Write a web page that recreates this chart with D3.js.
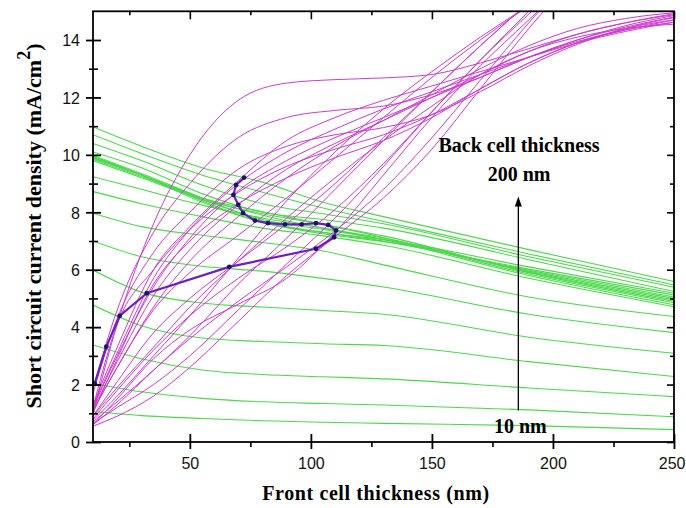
<!DOCTYPE html>
<html><head><meta charset="utf-8">
<script src="https://cdn.jsdelivr.net/npm/d3@7"></script>
<style>body{margin:0;background:#fff}svg{display:block}</style>
</head><body><svg id="c" width="686" height="508"></svg>
<script>
// ---------- data ----------
const backThickness = [10,20,30,40,50,60,70,80,90,100,110,120,130,140,150,160,170,180,190,200];

// back-cell current (green) vs front-cell thickness
const greenX = [10, 30, 55, 80, 105, 130, 190, 250];
const greenJsc = [
  [1.06, 0.92, 0.82, 0.74, 0.69, 0.65, 0.57, 0.43],
  [2.04, 1.75, 1.52, 1.40, 1.34, 1.29, 1.12, 0.88],
  [3.38, 2.90, 2.51, 2.35, 2.27, 2.20, 1.88, 1.58],
  [4.77, 4.05, 3.62, 3.50, 3.42, 3.36, 2.80, 2.28],
  [5.99, 5.22, 4.84, 4.70, 4.58, 4.45, 3.65, 3.09],
  [7.00, 6.45, 6.12, 5.95, 5.70, 5.40, 4.45, 3.81],
  [7.97, 7.50, 7.20, 6.95, 6.65, 6.17, 5.05, 4.37],
  [8.72, 8.30, 7.85, 7.45, 7.18, 6.85, 5.70, 4.71],
  [9.24, 8.80, 8.25, 7.80, 7.45, 7.05, 5.80, 4.78],
  [9.80, 9.20, 8.45, 7.95, 7.58, 7.12, 5.85, 4.85],
  [9.85, 9.25, 8.50, 8.02, 7.58, 7.18, 5.90, 4.90],
  [9.88, 9.30, 8.50, 7.90, 7.45, 7.10, 5.92, 4.95],
  [9.90, 9.30, 8.45, 7.75, 7.40, 7.05, 5.95, 5.00],
  [9.92, 9.30, 8.40, 7.65, 7.30, 7.00, 5.98, 5.05],
  [9.95, 9.30, 8.35, 7.65, 7.25, 6.98, 6.02, 5.12],
  [9.98, 9.35, 8.50, 7.70, 7.30, 7.05, 6.10, 5.18],
  [10.10, 9.55, 8.65, 8.00, 7.75, 7.45, 6.35, 5.24],
  [10.40, 9.80, 8.95, 8.30, 7.95, 7.60, 6.45, 5.39],
  [10.70, 10.05, 9.30, 8.70, 8.15, 7.68, 6.55, 5.47],
  [10.97, 10.30, 9.55, 9.05, 8.35, 7.85, 6.70, 5.59]
];

// front-cell current (magenta) vs front-cell thickness
const magentaX = [10, 20, 35, 50, 70, 90, 110, 130, 150, 170, 190, 210, 230, 250];
const magentaJsc = [
  [1.00, 4.10, 7.60, 10.00, 11.90, 12.50, 12.62, 12.68, 12.80, 13.20, 13.70, 14.20, 14.60, 14.92],
  [1.85, 4.60, 7.30, 9.00, 10.60, 11.30, 11.55, 11.70, 12.10, 12.70, 13.40, 14.00, 14.50, 14.85],
  [1.70, 4.30, 6.60, 8.00, 9.50, 10.30, 10.70, 10.95, 11.40, 12.20, 13.10, 13.85, 14.40, 14.78],
  [1.20, 4.10, 6.00, 7.40, 8.70, 9.60, 10.20, 10.70, 11.40, 12.30, 13.20, 13.90, 14.40, 14.70],
  [1.00, 2.90, 5.50, 7.00, 8.30, 9.20, 9.90, 10.50, 11.30, 12.30, 13.20, 13.90, 14.35, 14.62],
  [0.90, 1.90, 3.30, 4.70, 6.30, 7.80, 9.20, 10.50, 11.70, 12.80, 13.60, 14.10, 14.40, 14.55],
  [0.60, 1.50, 2.90, 3.90, 4.80, 5.70, 7.30, 9.30, 11.30, 13.10, 14.70, 16.30, null, null],
  [0.55, 0.90, 1.60, 2.60, 4.20, 5.80, 7.15, 8.50, 10.20, 12.30, 14.40, 16.30, null, null],
  [0.60, 1.30, 2.50, 3.60, 4.90, 6.10, 7.35, 8.80, 10.60, 12.60, 14.60, 16.40, null, null],
  [0.65, 1.20, 2.00, 3.00, 4.60, 6.20, 7.80, 9.60, 11.50, 13.30, 14.90, 16.50, null, null],
  [0.80, 1.80, 3.20, 4.40, 5.70, 6.80, 8.10, 9.70, 11.50, 13.30, 15.00, 16.60, null, null],
  [0.70, 1.40, 2.50, 3.70, 5.50, 7.10, 8.80, 10.50, 12.20, 13.80, 15.30, 16.70, null, null],
  [0.90, 2.10, 3.80, 5.00, 6.30, 7.60, 9.00, 10.60, 12.20, 13.80, 15.30, 16.70, null, null],
  [0.75, 1.60, 3.00, 4.40, 6.40, 8.40, 10.10, 11.60, 12.90, 14.10, 15.20, 16.30, null, null],
  [1.10, 2.60, 4.60, 5.90, 7.20, 8.50, 9.90, 11.30, 12.70, 14.00, 15.20, 16.40, null, null],
  [1.10, 2.60, 4.70, 6.30, 7.85, 9.20, 10.30, 11.20, 12.10, 13.00, 13.80, 14.40, 14.75, 14.95],
  [1.15, 2.80, 5.10, 6.70, 8.26, 9.50, 10.40, 11.20, 12.00, 12.80, 13.60, 14.20, 14.60, 14.88],
  [1.20, 3.00, 5.40, 7.10, 8.75, 9.80, 10.60, 11.30, 12.00, 12.70, 13.40, 14.00, 14.45, 14.80],
  [1.25, 3.10, 5.70, 7.40, 9.00, 10.10, 10.90, 11.60, 12.20, 12.80, 13.40, 13.95, 14.35, 14.70],
  [1.30, 3.30, 6.00, 7.50, 9.10, 10.50, 11.30, 11.90, 12.40, 12.90, 13.40, 13.90, 14.30, 14.62]
];

// current-matching points (back thickness 20 ... 200 nm)
const matchX = [10.7, 15.5, 21.0, 32.2, 66.3, 102.1, 109.6, 110.4, 107.2, 102.1, 96.2, 89.3, 82.3, 76.9, 72.0, 70.0, 68.0, 69.1, 72.4];
const matchY = [2.04, 3.32, 4.39, 5.18, 6.10, 6.73, 7.13, 7.37, 7.56, 7.62, 7.58, 7.58, 7.62, 7.71, 7.97, 8.26, 8.61, 8.95, 9.21];

// ticks
const xMajorTicks = [50, 100, 150, 200, 250];
const xMinorTicks = [25, 75, 125, 175, 225];
const yMajorTicks = [0, 2, 4, 6, 8, 10, 12, 14];
const yMinorTicks = [1, 3, 5, 7, 9, 11, 13];

// texts
const xTitle = "Front cell thickness (nm)";
const yTitle = "Short circuit current density (mA/cm";
const annTop = ["Back cell thickness", "200 nm"];
const annBottom = "10 nm";
const arrowAt = {x: 185.7, from: 1.1, to: 8.55};

// ---------- drawing ----------
(function draw() {
const svg = d3.select("#c");
const L = 93, R = 674, T = 11.3, B = 442;
const x = d3.scaleLinear().domain([10, 250]).range([L, R]);
const y = d3.scaleLinear().domain([0, 15]).range([B, T]);

svg.append("defs").append("clipPath").attr("id", "clip")
  .append("rect").attr("x", L).attr("y", T).attr("width", R - L).attr("height", B - T);

const plot = svg.append("g").attr("clip-path", "url(#clip)");

const gLine = d3.line().x((d, i) => x(greenX[i])).y(d => y(d)).curve(d3.curveMonotoneX);
plot.append("g").selectAll("path").data(greenJsc).join("path")
  .attr("d", gLine).attr("fill", "none").attr("stroke", "#4cd84c").attr("stroke-width", 1.1);

const mLine = d3.line().defined(d => d != null).x((d, i) => x(magentaX[i])).y(d => y(d)).curve(d3.curveMonotoneX);
plot.append("g").selectAll("path").data(magentaJsc).join("path")
  .attr("d", mLine).attr("fill", "none").attr("stroke", "#cc3ccc").attr("stroke-width", 1);

const pts = matchX.map((v, i) => [v, matchY[i]]);
plot.append("path").datum(pts)
  .attr("d", d3.line().x(d => x(d[0])).y(d => y(d[1])))
  .attr("fill", "none").attr("stroke", "#6a1fc8").attr("stroke-width", 2.2)
  .attr("stroke-linejoin", "round");
plot.append("g").selectAll("circle").data(pts).join("circle")
  .attr("cx", d => x(d[0])).attr("cy", d => y(d[1])).attr("r", 2.4).attr("fill", "#1c1560");

// frame
svg.append("rect").attr("x", L).attr("y", T).attr("width", R - L).attr("height", B - T)
  .attr("fill", "none").attr("stroke", "#000").attr("stroke-width", 1.8);

const sans = "Arial, 'Liberation Sans', sans-serif";
// bottom axis
const axB = svg.append("g").attr("transform", `translate(0,${B})`)
  .call(d3.axisBottom(x).tickValues(xMajorTicks).tickSize(6).tickFormat(d3.format("d")));
axB.select(".domain").remove();
axB.selectAll(".tick line").attr("y1", -8).attr("y2", 7).attr("stroke-width", 1.8);
axB.selectAll(".tick text").attr("y", 27).attr("dy", 0)
  .style("font-family", sans).style("font-size", "16px").attr("fill", "#111");
// last label sits against the right edge of the picture, as in the reference
axB.selectAll(".tick text").filter(d => d === 250).attr("text-anchor", "end").attr("x", 685 - R);
const axBm = svg.append("g").attr("transform", `translate(0,${B})`)
  .call(d3.axisBottom(x).tickValues(xMinorTicks).tickSize(5).tickFormat(""));
axBm.select(".domain").remove();
axBm.selectAll(".tick line").attr("stroke-width", 1.6);

// top axis
const axT = svg.append("g").attr("transform", `translate(0,${T})`)
  .call(d3.axisTop(x).tickValues(xMajorTicks).tickSize(-8).tickFormat(""));
axT.select(".domain").remove();
axT.selectAll(".tick line").attr("stroke-width", 1.6);
const axTm = svg.append("g").attr("transform", `translate(0,${T})`)
  .call(d3.axisTop(x).tickValues(xMinorTicks).tickSize(-4).tickFormat(""));
axTm.select(".domain").remove();
axTm.selectAll(".tick line").attr("stroke-width", 1.6);

// left axis
const axL = svg.append("g").attr("transform", `translate(${L},0)`)
  .call(d3.axisLeft(y).tickValues(yMajorTicks).tickSize(7).tickFormat(d3.format("d")));
axL.select(".domain").remove();
axL.selectAll(".tick line").attr("x1", 8).attr("x2", -7).attr("stroke-width", 1.8);
axL.selectAll(".tick text").attr("x", -13).attr("dy", "0.36em")
  .style("font-family", sans).style("font-size", "16px").attr("fill", "#111");
const axLm = svg.append("g").attr("transform", `translate(${L},0)`)
  .call(d3.axisLeft(y).tickValues(yMinorTicks).tickSize(4).tickFormat(""));
axLm.select(".domain").remove();
axLm.selectAll(".tick line").attr("x1", 5).attr("x2", -4).attr("stroke-width", 1.6);

// right axis
const axR = svg.append("g").attr("transform", `translate(${R},0)`)
  .call(d3.axisRight(y).tickValues(yMajorTicks).tickSize(-7).tickFormat(""));
axR.select(".domain").remove();
axR.selectAll(".tick line").attr("stroke-width", 1.6);
const axRm = svg.append("g").attr("transform", `translate(${R},0)`)
  .call(d3.axisRight(y).tickValues(yMinorTicks).tickSize(-4).tickFormat(""));
axRm.select(".domain").remove();
axRm.selectAll(".tick line").attr("stroke-width", 1.6);

// titles
const serif = "'Times New Roman', 'Liberation Serif', serif";
svg.append("text").attr("x", 376).attr("y", 500).attr("text-anchor", "middle")
  .style("font-family", serif).style("font-weight", "bold").style("font-size", "20px")
  .style("letter-spacing", "0.6px").text(xTitle);

const yt = svg.append("text").attr("transform", "translate(41,226) rotate(-90)")
  .attr("text-anchor", "middle")
  .style("font-family", serif).style("font-weight", "bold").style("font-size", "22px");
yt.append("tspan").text(yTitle);
yt.append("tspan").attr("dy", -11).style("font-size", "18px").text("2");
yt.append("tspan").attr("dy", 11).text(")");

// annotations
const ann = svg.append("g").style("font-family", serif).style("font-weight", "bold").style("font-size", "20px");
ann.append("text").attr("x", x(186)).attr("y", y(10.1)).attr("text-anchor", "middle").text(annTop[0]);
ann.append("text").attr("x", x(186)).attr("y", y(9.09)).attr("text-anchor", "middle").text(annTop[1]);
ann.append("text").attr("x", x(186.5)).attr("y", y(0.31)).attr("text-anchor", "middle").text(annBottom);

const ax = x(arrowAt.x);
svg.append("line").attr("x1", ax).attr("x2", ax).attr("y1", y(arrowAt.from)).attr("y2", y(arrowAt.to) + 6)
  .attr("stroke", "#000").attr("stroke-width", 1.3);
svg.append("path")
  .attr("d", `M${ax},${y(arrowAt.to)} L${ax - 3.5},${y(arrowAt.to) + 10} L${ax + 3.5},${y(arrowAt.to) + 10} Z`)
  .attr("fill", "#000");
})();
</script></body></html>
